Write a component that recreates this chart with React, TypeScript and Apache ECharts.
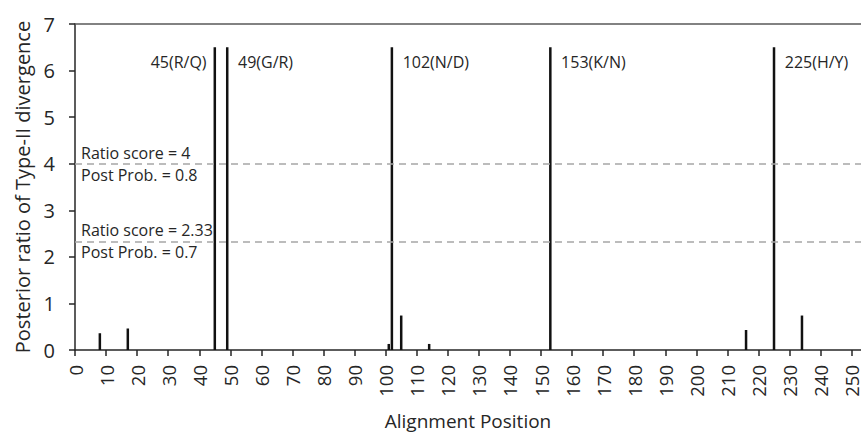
import React, { useEffect, useRef } from "react";
import * as echarts from "echarts";

const peakPositions = [45, 49, 102, 153, 225];
const peakValues = [6.5, 6.5, 6.5, 6.5, 6.5];
const peakLabels = ["45(R/Q)", "49(G/R)", "102(N/D)", "153(K/N)", "225(H/Y)"];
const smallPositions = [8, 17, 101, 105, 114, 216, 234];
const smallValues = [0.36, 0.46, 0.13, 0.74, 0.13, 0.43, 0.74];
const thresholds = [4, 2.33];
const thresholdTop = ["Ratio score = 4", "Ratio score = 2.33"];
const thresholdBottom = ["Post Prob. = 0.8", "Post Prob. = 0.7"];
const xTicks = Array.from({ length: 26 }, (_, i) => i * 10);

const FONT = "'Open Sans', 'Noto Sans', sans-serif";
const TXT = "#262626";

export default function App() {
  const ref = useRef<HTMLDivElement>(null);
  useEffect(() => {
    if (!ref.current) return;
    const chart = echarts.init(ref.current, null, { renderer: "svg" });
    const barData: any[] = [];
    peakPositions.forEach((p, i) => {
      const left = i === 0;
      barData.push({
        value: [p, peakValues[i]],
        label: {
          show: true,
          formatter: peakLabels[i],
          position: left ? [-7, 15] : [12, 15],
          align: left ? "right" : "left",
          verticalAlign: "middle",
          fontSize: 16,
          fontFamily: FONT,
          color: TXT,
        },
      });
    });
    smallPositions.forEach((p, i) => barData.push({ value: [p, smallValues[i]] }));

    const markData: any[] = [];
    thresholds.forEach((t, i) => {
      markData.push({
        yAxis: t,
        label: {
          show: true,
          formatter: thresholdTop[i],
          position: "insideStartTop",
          distance: [6, 3],
          fontSize: 16,
          fontFamily: FONT,
          color: TXT,
        },
      });
      markData.push({
        yAxis: t,
        lineStyle: { color: "rgba(0,0,0,0)", width: 0 },
        label: {
          show: true,
          formatter: thresholdBottom[i],
          position: "insideStartBottom",
          distance: [6, 3],
          fontSize: 16,
          fontFamily: FONT,
          color: TXT,
        },
      });
    });

    chart.setOption({
      animation: false,
      backgroundColor: "#fff",
      grid: { left: 75, right: 0, top: 24, bottom: 82, containLabel: false, outerBoundsMode: "none" },
      xAxis: [
        {
          type: "value",
          min: 0,
          max: 253,
          splitLine: { show: false },
          axisLine: { show: true, lineStyle: { color: "#262626", width: 1.5 } },
          axisTick: { show: true, customValues: xTicks, length: 6, lineStyle: { color: "#262626", width: 1.5 } },
          axisLabel: {
            customValues: xTicks,
            rotate: 90,
            fontSize: 18.5,
            fontFamily: FONT,
            color: TXT,
            margin: 15,
          },
          name: "Alignment Position",
          nameLocation: "middle",
          nameGap: 61,
          nameTextStyle: { fontSize: 19, fontFamily: FONT, color: TXT },
        },
        {
          type: "value",
          position: "top",
          min: 0,
          max: 253,
          splitLine: { show: false },
          axisLine: { show: true, lineStyle: { color: "#595959", width: 1.5 } },
          axisTick: { show: false },
          axisLabel: { show: false },
        },
      ],
      yAxis: {
        type: "value",
        min: 0,
        max: 7,
        interval: 1,
        splitLine: { show: false },
        axisLine: { show: true, lineStyle: { color: "#262626", width: 1.5 } },
        axisTick: { show: true, length: 6, lineStyle: { color: "#262626", width: 1.5 } },
        axisLabel: { fontSize: 20, fontFamily: FONT, color: TXT, margin: 20 },
        name: "Posterior ratio of Type-II divergence",
        nameLocation: "middle",
        nameGap: 43,
        nameTextStyle: { fontSize: 20, fontFamily: FONT, color: TXT },
      },
      series: [
        {
          type: "bar",
          xAxisIndex: 0,
          barWidth: 2.5,
          itemStyle: { color: "#111" },
          data: barData,
          markLine: {
            silent: true,
            symbol: "none",
            lineStyle: { type: [7, 5], color: "#a6a6a6", width: 1.5 },
            data: markData,
          },
        },
      ],
    });
    return () => chart.dispose();
  }, []);
  return <div ref={ref} style={{ position: "fixed", left: 0, top: 0, width: 861, height: 432 }} />;
}
